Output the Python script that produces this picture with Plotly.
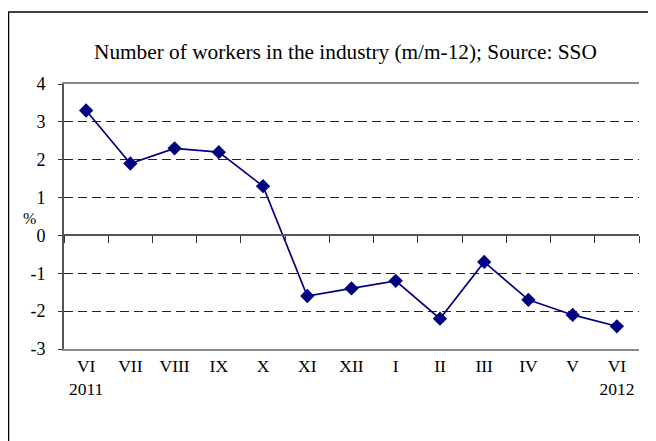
import plotly.graph_objects as go

months = ["VI", "VII", "VIII", "IX", "X", "XI", "XII", "I", "II", "III", "IV", "V", "VI "]
tick_text = ["VI<br>2011", "VII", "VIII", "IX", "X", "XI", "XII", "I", "II", "III", "IV", "V", "VI<br>2012"]
values = [3.3, 1.9, 2.3, 2.2, 1.3, -1.6, -1.4, -1.2, -2.2, -0.7, -1.7, -2.1, -2.4]
y_ticks = [-3, -2, -1, 0, 1, 2, 3, 4]
y_tick_text = ["-3", "-2", "-1", "0", "1", "2", "3", "4"]
title_text = "Number of workers in the industry (m/m-12); Source: SSO"

FONT = "Liberation Serif"
NAVY = "#000080"
ymin, ymax = -3, 4

fig = go.Figure()
fig.add_trace(go.Scatter(
    x=months, y=values, mode="lines+markers",
    line=dict(color=NAVY, width=1.7),
    marker=dict(symbol="diamond", size=11, color=NAVY),
    showlegend=False, hoverinfo="skip",
))
# dummy trace on xaxis2 to create the zero-line axis
fig.add_trace(go.Scatter(x=months, y=[None] * len(months), xaxis="x2",
                         showlegend=False, hoverinfo="skip"))

# page is offset by the 8px body margin
OFF = 8
W, H = 656 - OFF, 441 - OFF
L, R, T, B = 64 - OFF, 17, 84 - OFF, 92
pw, ph = W - L - R, H - T - B


def px_x(px):
    return (px - OFF - L) / pw


def px_y(py):
    return (H - B - (py - OFF)) / ph


fig.update_layout(
    width=W, height=H,
    margin=dict(l=L, r=R, t=T, b=B),
    paper_bgcolor="white", plot_bgcolor="white",
    font=dict(family=FONT, size=17, color="black"),
    xaxis=dict(
        type="category", categoryorder="array", categoryarray=months,
        tickvals=months, ticktext=tick_text,
        showgrid=False, zeroline=False,
        showline=True, linecolor="#8a8a8a", linewidth=2, mirror=True,
        ticks="", ticklabelstandoff=0,
        range=[-0.5, len(months) - 0.5],
        tickfont=dict(family=FONT, size=17.5),
    ),
    xaxis2=dict(
        type="category", categoryorder="array", categoryarray=months,
        overlaying="x", anchor="free",
        position=(0 - ymin) / (ymax - ymin),
        range=[-0.5, len(months) - 0.5],
        showticklabels=False, showgrid=False, zeroline=False,
        showline=True, linecolor="#555555", linewidth=1.5,
        ticks="outside", tickson="boundaries", ticklen=7, tickcolor="#333333", tickwidth=1,
    ),
    yaxis=dict(
        range=[ymin, ymax], tickvals=y_ticks, ticktext=y_tick_text,
        showgrid=True, gridcolor="#222222", gridwidth=1, griddash="9px,5px",
        zeroline=False,
        showline=True, linecolor="#555555", linewidth=2,
        ticks="outside", ticklen=4, tickcolor="#333333",
        ticklabelstandoff=9,
        tickfont=dict(family=FONT, size=18),
    ),
    annotations=[
        dict(text=title_text, xref="paper", yref="paper",
             x=px_x(345), y=px_y(52), xanchor="center", yanchor="middle",
             showarrow=False, font=dict(family=FONT, size=21.3)),
        dict(text="%", xref="paper", yref="paper",
             x=px_x(29), y=px_y(218), xanchor="center", yanchor="middle",
             showarrow=False, font=dict(family=FONT, size=16)),
    ],
    shapes=[
        dict(type="rect", xref="paper", yref="paper",
             x0=px_x(8.5), x1=px_x(680),
             y0=px_y(480), y1=px_y(12),
             line=dict(color="black", width=1.5), fillcolor="rgba(0,0,0,0)", layer="below"),
    ],
)

fig.write_html("out.html")
